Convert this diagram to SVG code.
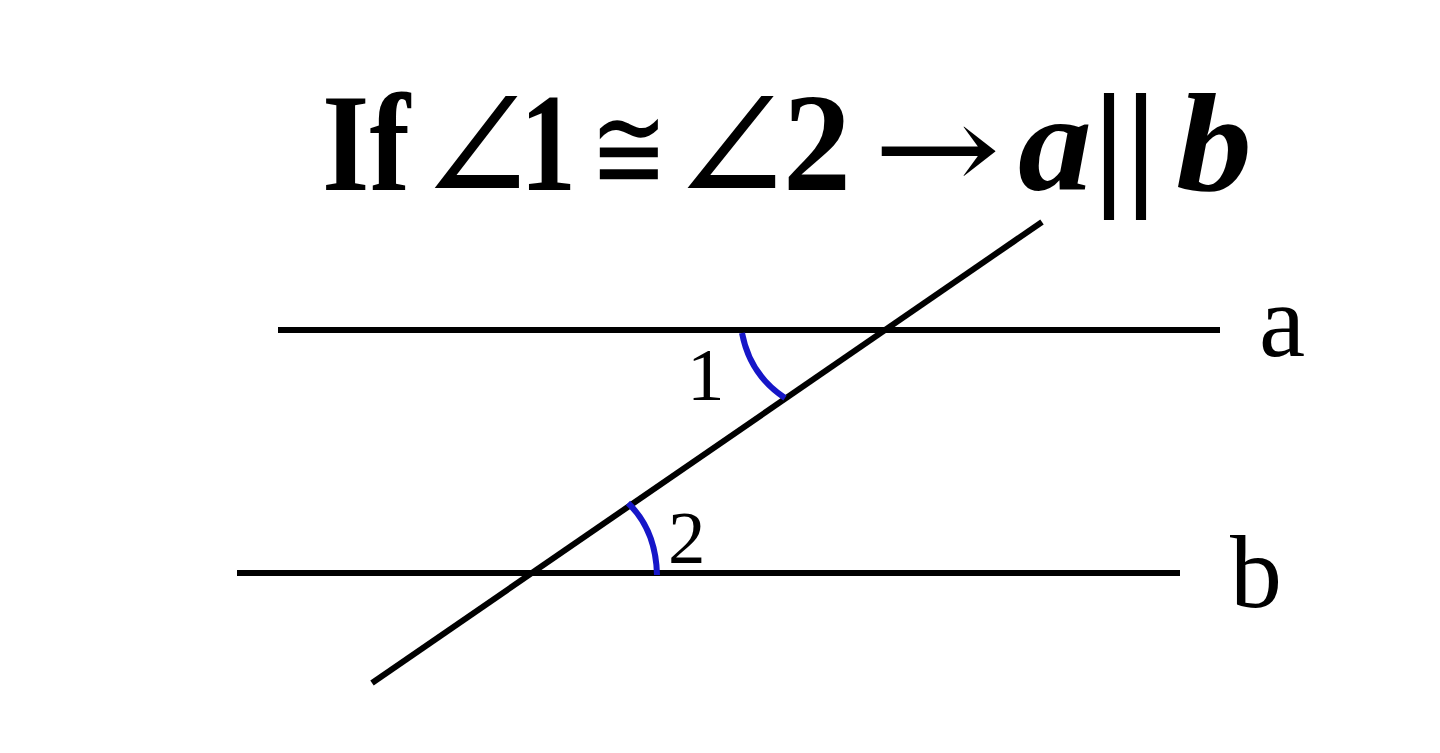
<svg xmlns="http://www.w3.org/2000/svg" width="1440" height="753" viewBox="0 0 1440 753">
<style>
.ln{stroke:#000;stroke-width:6;fill:none;stroke-linecap:butt}
.arc{stroke:#1616c8;stroke-width:6;fill:none}
.t{font-family:"Liberation Serif","DejaVu Serif",serif;font-weight:bold;font-size:140px;fill:#000}
.s{font-family:"DejaVu Serif","Liberation Serif",serif;font-size:120px;fill:#000}
.ang{font-family:"DejaVu Serif","Liberation Serif",serif;font-size:150px;fill:#000}
.lbl{font-family:"Liberation Serif",serif;fill:#000}
</style>
<rect width="1440" height="753" fill="#fff"/>
<g id="title">
<text class="t" x="322" y="190" textLength="88" lengthAdjust="spacingAndGlyphs">If</text>
<text class="ang" transform="translate(414,204) scale(1.0,1.09)">∠</text>
<text class="t" x="520" y="190" textLength="56" lengthAdjust="spacingAndGlyphs">1</text>
<text class="s" x="590" y="190" textLength="78" lengthAdjust="spacingAndGlyphs">≅</text>
<text class="ang" transform="translate(666,204) scale(1.04,1.09)">∠</text>
<text class="t" x="783" y="190" textLength="68" lengthAdjust="spacingAndGlyphs">2</text>
<text class="s" x="873" y="190" textLength="128" lengthAdjust="spacingAndGlyphs">→</text>
<text class="t" x="1018" y="190" font-style="italic" textLength="74" lengthAdjust="spacingAndGlyphs">a</text>
<text class="t" x="1093" y="190" font-size="165" textLength="64" lengthAdjust="spacingAndGlyphs">||</text>
<text class="t" x="1176" y="190" font-style="italic" textLength="76" lengthAdjust="spacingAndGlyphs">b</text>
</g>
<g id="connectors">
<line id="line-a" class="ln" x1="278" y1="330" x2="1220" y2="330"/>
<line id="line-b" class="ln" x1="237" y1="573" x2="1180" y2="573"/>
<line id="transversal" class="ln" x1="372" y1="683" x2="1042" y2="222"/>
</g>
<g id="angle1">
<path class="arc" d="M742,333 Q750,375 785,398"/>
<text class="lbl" x="687" y="400" font-size="75">1</text>
</g>
<g id="angle2">
<path class="arc" d="M628,503 Q656,530 657,575"/>
<text class="lbl" x="668" y="563" font-size="75">2</text>
</g>
<g id="label-a"><text class="lbl" x="1259" y="356" font-size="104">a</text></g>
<g id="label-b"><text class="lbl" x="1230" y="607" font-size="104">b</text></g>
</svg>
